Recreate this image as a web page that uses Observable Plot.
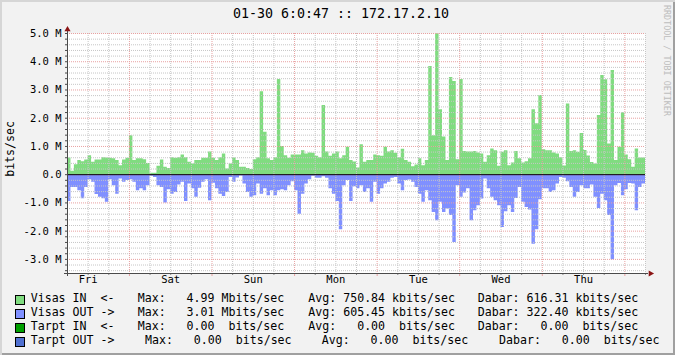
<!DOCTYPE html>
<html><head><meta charset="utf-8">
<script src="https://cdn.jsdelivr.net/npm/d3@7"></script>
<script src="https://cdn.jsdelivr.net/npm/@observablehq/plot@0.6"></script>
<style>
body{margin:0;background:#F2F2F2;}
#wrap{position:relative;width:675px;height:355px;background:#F2F2F2;box-shadow:inset 2px 2px 0 #D6D6D6, inset -2px -2px 0 #A0A0A0;overflow:hidden;font-family:"DejaVu Sans Mono",monospace;color:#000;}
.t{position:absolute;white-space:pre;line-height:1;}
#chart{position:absolute;left:0;top:0;}
.sw{position:absolute;width:10px;height:10px;box-sizing:border-box;border:1px solid #000;}
</style></head><body><div id="wrap"><div id="chart"></div></div>
<script>
// ---- data ----
const title = "01-30 6:0:47 :: 172.17.2.10";
const yLabel = "bits/sec";
const watermark = "RRDTOOL / TOBI OETIKER";
const dayLabels = ["Fri","Sat","Sun","Mon","Tue","Wed","Thu"];
const startHour = 6;          // first sample: Fri 06:00
const hoursShown = 168;
const yTicks = [-3,-2,-1,0,1,2,3,4,5];   // Mbits/sec
const yDomain = [-3.5, 5];

// hourly averages, Mbits/sec
const visasIn = [
0.59,0.12,0.35,0.5,0.46,0.52,0.67,0.44,0.52,0.52,0.6,0.59,0.58,0.56,0.5,0.32,0.52,0.58,1.38,0.5,
0.56,0.56,0.53,0.4,0.05,0.05,0.3,0.52,0.26,0.22,0.6,0.58,0.6,0.7,0.6,0.44,0.38,0.5,0.5,0.58,
0.58,0.8,0.58,0.5,0.6,0.73,0.2,0.38,0.59,0.5,0.26,0.26,0.22,0.18,0.53,0.6,2.94,1.5,0.56,0.5,
0.6,3.37,1.0,0.67,0.58,0.7,0.7,0.7,0.85,0.73,0.77,0.76,0.65,0.6,2.45,0.8,0.65,0.73,0.8,0.56,
0.67,0.97,0.5,0.45,0.24,1.06,0.44,0.5,0.5,0.7,0.67,0.65,0.97,0.8,0.85,0.76,0.6,0.9,0.5,0.44,
0.28,0.34,0.56,0.32,0.5,3.83,1.38,4.99,2.3,1.33,0.5,3.44,3.3,0.53,3.37,0.82,0.8,0.8,0.82,0.77,
0.73,0.44,0.67,0.91,0.85,0.3,0.79,0.85,0.32,0.41,0.82,0.56,0.41,0.46,0.56,2.3,1.8,2.8,0.88,0.85,
0.85,0.77,0.73,0.6,0.31,2.5,0.82,0.85,0.79,1.46,0.86,0.66,0.43,0.38,2.1,3.51,3.36,1.09,3.69,0.5,
0.97,2.19,0.7,0.53,0.26,0.91,0.59,0.59];
const visasOut = [
0.95,0.45,0.45,0.57,0.85,0.45,0.18,0.27,0.7,0.8,0.85,0.98,0.18,0.39,0.69,0.15,0.27,0.21,0.18,0.27,
0.57,0.5,0.57,0.39,0.06,0.1,0.39,0.45,1.0,0.53,0.69,0.63,0.37,0.27,0.95,0.33,0.5,0.8,0.48,0.27,
0.18,0.92,0.3,0.5,0.69,0.77,0.63,0.1,0.27,0.12,0.05,0.33,0.63,0.8,0.75,0.33,0.69,0.5,0.75,0.57,
0.75,0.57,0.53,0.57,0.39,0.25,0.57,1.4,0.69,0.33,0.18,0.06,0.13,0.13,0.07,0.13,0.5,0.69,0.95,1.95,
0.39,0.21,0.95,0.43,0.5,0.39,0.63,0.5,0.98,0.27,0.69,0.5,0.33,0.27,0.13,0.1,0.33,0.57,0.21,0.19,
0.27,0.45,0.69,0.98,0.57,0.92,1.34,1.63,0.98,1.34,1.22,1.45,2.4,0.39,0.8,0.65,0.5,1.63,1.28,1.1,
0.86,0.15,0.5,0.8,0.92,1.1,1.87,1.31,1.1,1.34,0.84,0.45,0.98,1.16,1.25,2.46,1.95,0.89,0.5,0.5,
0.63,0.57,0.33,0.1,0.13,0.25,0.45,0.8,0.63,0.39,0.5,0.5,0.37,0.8,1.2,0.69,0.92,1.45,3.01,0.39,
0.31,0.75,0.53,0.31,0.33,1.28,0.45,0.33];

// legend
const legendNames  = ["Visas IN","Visas OUT","Tarpt IN","Tarpt OUT"];
const legendArrows = ["<-","->","<-","->"];
const legendMax    = [4.99, 3.01, 0.00, 0.00];
const legendMaxPfx = ["M","M"," "," "];
const legendAvg    = [750.84, 605.45, 0.00, 0.00];
const legendAvgPfx = ["k","k"," "," "];
const legendDab    = [616.31, 322.40, 0.00, 0.00];
const legendDabPfx = ["k","k"," "," "];

// ---- styles ----
const GREEN = "#80DC80", BLUE = "#8090FF";
const swatchColors = [GREEN, BLUE, "#00A000", "#5070D0"];
const MINOR = "#C6C6C6", MAJOR = "#E8A0A0", AXIS = "#4A4A4A", ARROW = "#8B1414";

// ---- chart ----
// step areas: each hourly value holds until the next hour; the last one holds to the end of the window
const data = visasIn.map((v, i) => ({h: i, vin: v, vout: -visasOut[i]}));
const stepData = data.concat([{h: hoursShown, vin: visasIn[visasIn.length - 1], vout: -visasOut[visasOut.length - 1]}]);
const minorY = d3.range(-17, 25).filter(i => i % 5 !== 0).map(i => i / 5);
const allY = d3.range(-17, 26).map(i => i / 5);
const gridX = d3.range(0, hoursShown + 1, 6);
const majorX = gridX.filter(h => (h + startHour) % 24 === 0);
const minorX = gridX.filter(h => (h + startHour) % 24 !== 0);
const noon = dayLabels.map((d, i) => ({label: d, h: 12 - startHour + 24 * i}));
const fmtY = d => d === 0 ? "0.0" : `${d.toFixed(1)} M`;

const plot = Plot.plot({
  width: 675, height: 290,
  marginLeft: 67, marginRight: 30, marginTop: 33, marginBottom: 17,
  x: {domain: [0, hoursShown], axis: null},
  y: {domain: yDomain, axis: null},
  style: {background: "transparent", fontFamily: "DejaVu Sans Mono, monospace", fontSize: "10.5px", color: "#000"},
  marks: [
    Plot.frame({fill: "#FFFFFF", stroke: null}),
    Plot.areaY(stepData, {x: "h", y1: 0, y2: "vin", curve: "step-after", fill: GREEN}),
    Plot.areaY(stepData, {x: "h", y1: 0, y2: "vout", curve: "step-after", fill: BLUE}),
    Plot.ruleY(minorY, {stroke: MINOR, strokeDasharray: "1,1"}),
    Plot.ruleX(minorX, {stroke: MINOR, strokeDasharray: "1,1"}),
    Plot.ruleY(yTicks, {stroke: MAJOR, strokeDasharray: "1,1"}),
    Plot.ruleX(majorX, {stroke: MAJOR, strokeDasharray: "1,1"}),
    Plot.ruleY([0], {stroke: "#000"}),
    Plot.axisY(allY, {anchor: "left", tickSize: 2, fill: "none", stroke: AXIS, label: null}),
    Plot.axisX(minorX, {anchor: "bottom", tickSize: 2, fill: "none", stroke: "#888", label: null}),
    Plot.axisX(majorX, {anchor: "bottom", tickSize: 3, fill: "none", stroke: MAJOR, label: null}),
    Plot.ruleY([yDomain[0]], {stroke: AXIS, insetLeft: -3, insetRight: -3}),
    Plot.ruleX([0], {stroke: AXIS, insetTop: -4, insetBottom: -3}),
    Plot.dot([{h: 0, v: yDomain[1]}], {x: "h", y: "v", symbol: "triangle", r: 2.3, dy: -4, fill: ARROW, stroke: null}),
    Plot.dot([{h: hoursShown, v: yDomain[0]}], {x: "h", y: "v", symbol: "triangle", r: 2.3, dx: 5, rotate: 90, fill: ARROW, stroke: null}),
    Plot.text(noon, {x: "h", text: "label", frameAnchor: "bottom", dy: 9, fontSize: 10.5}),
    Plot.text(yTicks, {y: d => d, text: fmtY, frameAnchor: "left", textAnchor: "end", dx: -6, fontSize: 10.5})
  ]
});
document.getElementById("chart").append(plot);

// ---- texts around the chart ----
const wrap = d3.select("#wrap");
function addText(txt, left, top, size, extra = {}) {
  const el = wrap.append("div").attr("class", "t").text(txt)
    .style("left", left + "px").style("top", top + "px").style("font-size", size + "px");
  for (const k in extra) el.style(k, extra[k]);
  return el;
}
addText(title, 0, 6.6, 13.3, {width: "682px", "text-align": "center"});
addText(yLabel, 5.2, 120.6, 11.6, {"writing-mode": "vertical-rl", transform: "rotate(180deg)"});
addText(watermark, 662.3, 5, 8.4, {"writing-mode": "vertical-rl", color: "#BDBDBD"});

const colMax = [137.7, 137.7, 137.7, 145];
const colAvg = [308.3, 308.3, 308.3, 321.7];
const colDab = [477.7, 477.7, 477.7, 499];
const f = (v, p) => `${v.toFixed(2).padStart(6)} ${p}bits/sec`;
legendNames.forEach((n, i) => {
  const top = 293.2 + 14 * i;
  wrap.append("div").attr("class", "sw").style("left", "15px").style("top", (295 + 14 * i) + "px")
    .style("background", swatchColors[i]);
  addText(n.padEnd(10) + legendArrows[i], 30.7, top, 11.6);
  addText("Max: " + f(legendMax[i], legendMaxPfx[i]), colMax[i], top, 11.6);
  addText("Avg: " + f(legendAvg[i], legendAvgPfx[i]), colAvg[i], top, 11.6);
  addText("Dabar: " + f(legendDab[i], legendDabPfx[i]), colDab[i], top, 11.6);
});
</script></body></html>
